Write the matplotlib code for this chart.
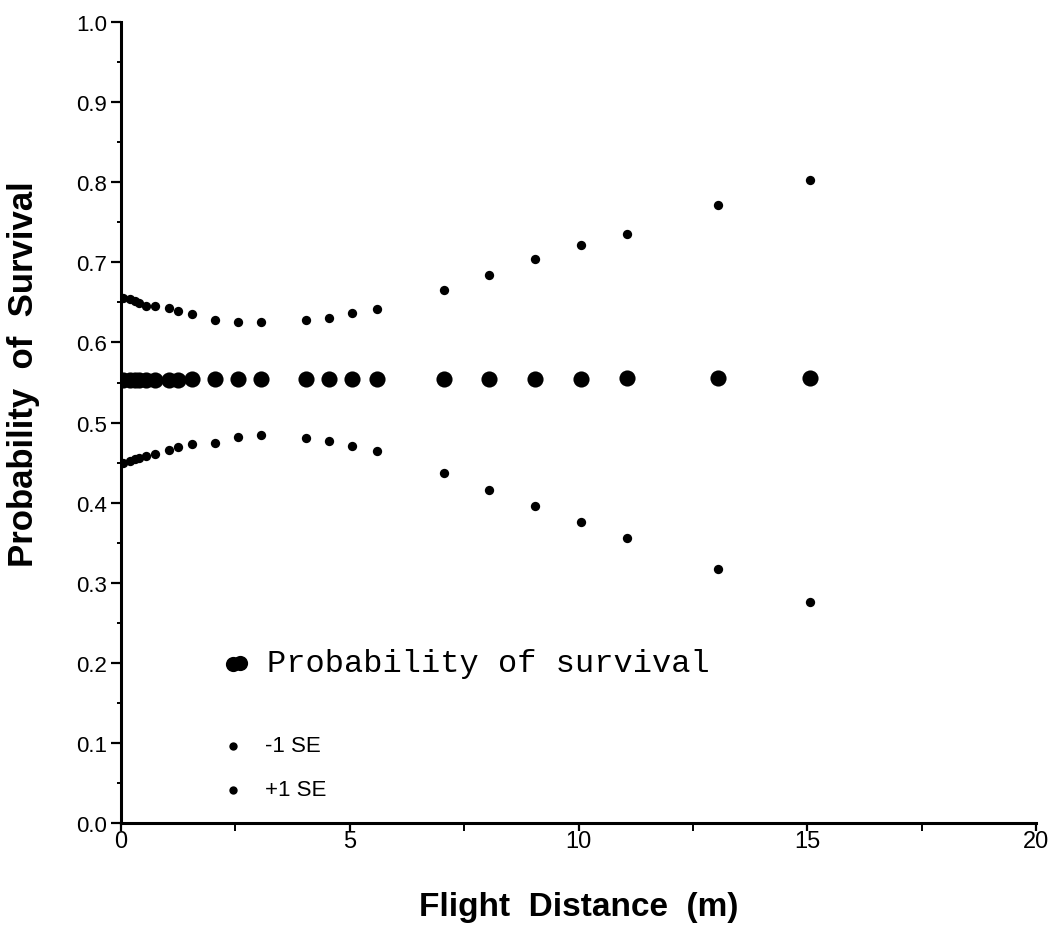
import numpy as np
import matplotlib

matplotlib.use("Agg")

import matplotlib.pyplot as plt
from matplotlib.ticker import MultipleLocator, FixedLocator


# flight distance (m) for each observation
distance = [0.05, 0.2, 0.3, 0.4, 0.55, 0.75, 1.05, 1.25, 1.55, 2.05, 2.55, 3.05,
            4.05, 4.55, 5.05, 5.6, 7.05, 8.05, 9.05, 10.05, 11.05, 13.05, 15.05]

p_survival = [0.553, 0.553, 0.553, 0.553, 0.553, 0.553, 0.553, 0.553, 0.555, 0.555,
              0.555, 0.555, 0.554, 0.554, 0.554, 0.554, 0.555, 0.555, 0.555, 0.555,
              0.556, 0.556, 0.556]

upper_se = [0.656, 0.654, 0.652, 0.649, 0.646, 0.646, 0.643, 0.639, 0.636, 0.628,
            0.625, 0.625, 0.628, 0.630, 0.637, 0.642, 0.666, 0.684, 0.704, 0.721,
            0.735, 0.772, 0.803]

lower_se = [0.449, 0.452, 0.454, 0.456, 0.458, 0.461, 0.466, 0.470, 0.473, 0.475,
            0.482, 0.485, 0.481, 0.477, 0.471, 0.464, 0.437, 0.416, 0.396, 0.376,
            0.356, 0.317, 0.276]

x_ticks = [0, 5, 10, 15, 20]
y_ticks = [0.0, 0.1, 0.2, 0.3, 0.4, 0.5, 0.6, 0.7, 0.8, 0.9, 1.0]


plt.rcParams["font.family"] = ["Liberation Sans", "DejaVu Sans"]

fig = plt.figure(figsize=(10.52, 9.53), dpi=100)
ax = fig.add_axes([0.115, 0.135, 0.870, 0.841])

ax.scatter(distance, p_survival, s=135, color="black", zorder=3, linewidths=0)
ax.scatter(distance, lower_se, s=45, color="black", zorder=3, linewidths=0)
ax.scatter(distance, upper_se, s=45, color="black", zorder=3, linewidths=0)

ax.set_xlim(0, 20)
ax.set_ylim(0, 1.0)

ax.spines["top"].set_visible(False)
ax.spines["right"].set_visible(False)
ax.spines["left"].set_linewidth(2.2)
ax.spines["bottom"].set_linewidth(2.2)

ax.xaxis.set_major_locator(FixedLocator(x_ticks))
ax.xaxis.set_minor_locator(MultipleLocator(2.5))
ax.yaxis.set_major_locator(FixedLocator(y_ticks))
ax.yaxis.set_minor_locator(MultipleLocator(0.05))

ax.set_xticklabels([str(v) for v in x_ticks], fontsize=17)
ax.set_yticklabels([f"{v:.1f}" for v in y_ticks], fontsize=16)

ax.tick_params(axis="x", which="major", direction="out", length=6, width=1.6,
               colors="black", pad=-1)
ax.tick_params(axis="y", which="major", direction="out", length=7, width=1.6,
               colors="black", pad=3)
ax.tick_params(axis="x", which="minor", direction="out", length=6, width=1.4)
ax.tick_params(axis="y", which="minor", direction="out", length=3, width=1.4)

ax.set_xlabel("Flight  Distance  (m)", fontsize=24, fontweight="bold")
ax.xaxis.set_label_coords(0.5, -0.085)
ax.set_ylabel("Probability  of  Survival", fontsize=25, fontweight="bold")
ax.yaxis.set_label_coords(-0.088, 0.562)

# hand-placed key, as in the original figure
ax.scatter([2.45, 2.6], [0.199, 0.2], s=120, color="black", linewidths=0, clip_on=False)
ax.text(3.2, 0.2, "Probability of survival", fontsize=23, family="Liberation Mono",
        va="center", ha="left")
ax.scatter([2.45], [0.097], s=36, color="black", linewidths=0)
ax.text(3.15, 0.097, "-1 SE", fontsize=16, va="center", ha="left")
ax.scatter([2.45], [0.042], s=36, color="black", linewidths=0)
ax.text(3.15, 0.042, "+1 SE", fontsize=16, va="center", ha="left")

fig.savefig("out.png", dpi=100)
